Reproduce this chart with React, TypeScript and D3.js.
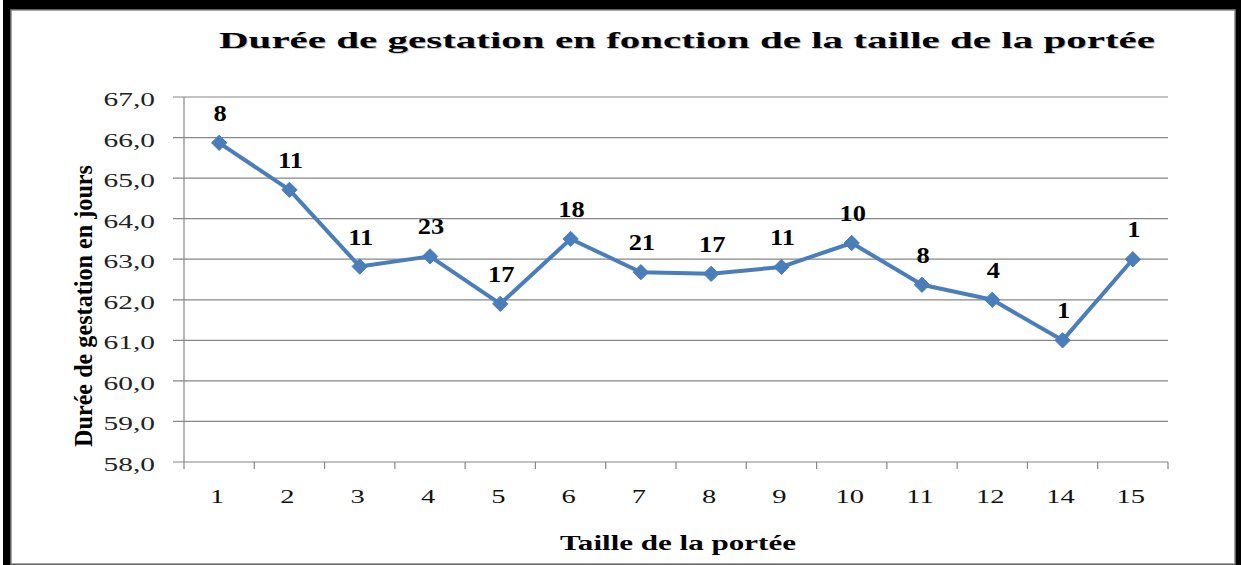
import React, { useEffect, useRef } from 'react';
import * as d3 from 'd3';

const W = 1241;
const H = 565;

// données
const portee = ['1', '2', '3', '4', '5', '6', '7', '8', '9', '10', '11', '12', '14', '15'];
const duree = [65.87, 64.71, 62.82, 63.07, 61.9, 63.5, 62.68, 62.64, 62.81, 63.4, 62.37, 62.0, 61.0, 63.0];
const effectifs = ['8', '11', '11', '23', '17', '18', '21', '17', '11', '10', '8', '4', '1', '1'];
const yTicks = [58, 59, 60, 61, 62, 63, 64, 65, 66, 67];

const BLUE = '#4a7ebb';
const GRID = '#868686';
const FONT = '"Liberation Serif", "Times New Roman", serif';

const App = () => {
  const ref = useRef<SVGSVGElement>(null);

  useEffect(() => {
    if (!ref.current) return;
    const svg = d3.select(ref.current);
    svg.selectAll('*').remove();

    // cadre
    svg.append('rect').attr('x', 3).attr('y', 0).attr('width', W - 3).attr('height', H).style('fill', '#000');
    svg.append('rect').attr('x', 11).attr('y', 10).attr('width', 1224).attr('height', 554)
      .style('fill', '#fff').style('stroke', GRID).style('stroke-width', 1.5);

    const left = 184, right = 1168, top = 97, bottom = 462;
    const x = d3.scaleBand().domain(portee).range([left, right]);
    const y = d3.scaleLinear().domain([58, 67]).range([bottom, top]);

    // grille horizontale
    svg.append('g').selectAll('line').data(yTicks).enter().append('line')
      .attr('x1', left - 11).attr('x2', right)
      .attr('y1', d => y(d)).attr('y2', d => y(d))
      .style('stroke', GRID).style('stroke-width', 1.2);

    // axe vertical
    svg.append('line').attr('x1', left).attr('x2', left).attr('y1', top).attr('y2', bottom)
      .style('stroke', GRID).style('stroke-width', 1.2);

    // graduations x
    const bounds = portee.map(p => x(p) as number).concat([right]);
    svg.append('g').selectAll('line').data(bounds).enter().append('line')
      .attr('x1', d => d).attr('x2', d => d).attr('y1', bottom).attr('y2', bottom + 7)
      .style('stroke', GRID).style('stroke-width', 1.2);

    // étiquettes y
    svg.append('g').selectAll('text').data(yTicks).enter().append('text')
      .attr('transform', d => `translate(155,${y(d) + 9}) scale(1.55,1)`)
      .attr('text-anchor', 'end')
      .style('font-family', FONT).style('font-size', '19px').style('fill', '#222')
      .text(d => d.toFixed(1).replace('.', ','));

    // étiquettes x
    svg.append('g').selectAll('text').data(portee).enter().append('text')
      .attr('transform', d => `translate(${(x(d) as number) + x.bandwidth() / 2 - 2},503) scale(1.5,1)`)
      .attr('text-anchor', 'middle')
      .style('font-family', FONT).style('font-size', '19px').style('fill', '#111')
      .text(d => d);

    // courbe
    const pts = portee.map((p, i) => ({ cx: (x(p) as number) + x.bandwidth() / 2, v: duree[i], n: effectifs[i] }));
    const line = d3.line<{ cx: number; v: number }>().x(d => d.cx).y(d => y(d.v));
    svg.append('path').datum(pts).attr('d', line)
      .style('fill', 'none').style('stroke', BLUE).style('stroke-width', 4).style('stroke-linejoin', 'round');

    const diamond = d3.symbol().type(d3.symbolDiamond2).size(150);
    svg.append('g').selectAll('path').data(pts).enter().append('path')
      .attr('d', diamond)
      .attr('transform', d => `translate(${d.cx},${y(d.v)})`)
      .style('fill', BLUE).style('stroke', BLUE).style('stroke-width', 1);

    // effectifs
    svg.append('g').selectAll('text').data(pts).enter().append('text')
      .attr('transform', d => `translate(${d.cx + 1},${y(d.v) - 22}) scale(1.15,1)`)
      .attr('text-anchor', 'middle')
      .style('font-family', FONT).style('font-size', '23px').style('font-weight', 'bold').style('fill', '#000')
      .text(d => d.n);

    // titre (léger ombrage)
    const title = 'Durée de gestation en fonction de la taille de la portée';
    [{ dx: 1, c: '#c8c8c8' }, { dx: 0, c: '#000' }].forEach(s => {
      svg.append('text')
        .attr('x', 219 + s.dx).attr('y', 48 + s.dx)
        .attr('textLength', 936).attr('lengthAdjust', 'spacingAndGlyphs')
        .style('font-family', FONT).style('font-size', '23px').style('font-weight', 'bold').style('fill', s.c)
        .text(title);
    });

    // titres des axes
    svg.append('text')
      .attr('x', 560).attr('y', 550)
      .attr('textLength', 236).attr('lengthAdjust', 'spacingAndGlyphs')
      .style('font-family', FONT).style('font-size', '20px').style('font-weight', 'bold')
      .text('Taille de la portée');

    svg.append('g').attr('transform', 'translate(92,447) rotate(-90) scale(1,1.45)')
      .append('text')
      .attr('x', 0).attr('y', 0)
      .attr('textLength', 282).attr('lengthAdjust', 'spacingAndGlyphs')
      .style('font-family', FONT).style('font-size', '18px').style('font-weight', 'bold')
      .text('Durée de gestation en jours');
  }, []);

  return (
    <svg ref={ref} width={W} height={H}
      style={{ position: 'absolute', left: 0, top: 0, display: 'block', background: '#fff' }} />
  );
};

export default App;
